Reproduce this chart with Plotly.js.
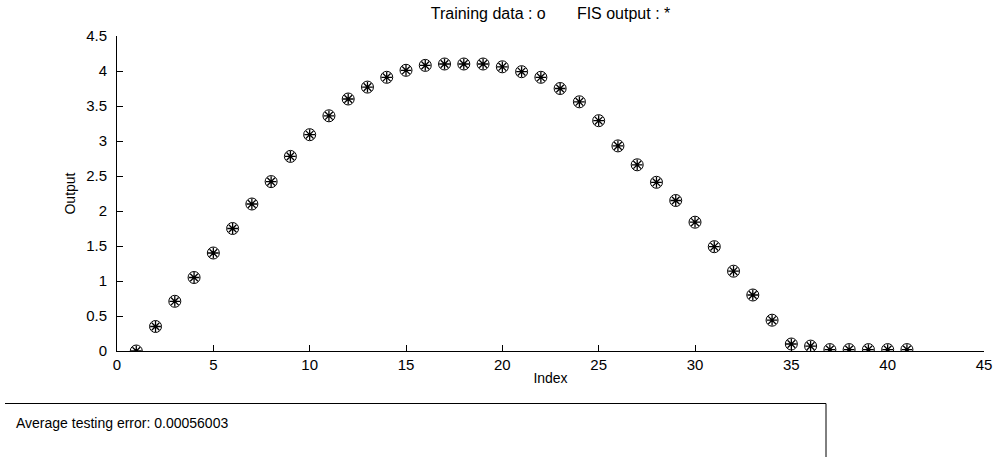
<!DOCTYPE html>
<html>
<head>
<meta charset="utf-8">
<script src="https://cdn.plot.ly/plotly-3.0.1.min.js"></script>
<style>
  html, body { margin: 0; padding: 0; background: #fff; }
  #chart { width: 993px; height: 457px; }
</style>
</head>
<body>
<div id="chart"></div>
<script>
// Sample index (1..41)
const sampleIndex = [1,2,3,4,5,6,7,8,9,10,11,12,13,14,15,16,17,18,19,20,
  21,22,23,24,25,26,27,28,29,30,31,32,33,34,35,36,37,38,39,40,41];

// Training data targets
const trainingOutput = [0.00,0.35,0.71,1.05,1.40,1.75,2.10,2.42,2.78,3.09,
  3.36,3.60,3.77,3.91,4.01,4.08,4.10,4.10,4.10,4.06,
  3.99,3.91,3.75,3.56,3.29,2.93,2.66,2.41,2.15,1.84,
  1.49,1.14,0.80,0.44,0.10,0.07,0.02,0.02,0.02,0.02,0.02];

// FIS output evaluated on the same inputs
const fisOutput = [0.00,0.35,0.71,1.05,1.40,1.75,2.10,2.42,2.78,3.09,
  3.36,3.60,3.77,3.91,4.01,4.08,4.10,4.10,4.10,4.06,
  3.99,3.91,3.75,3.56,3.29,2.93,2.66,2.41,2.15,1.84,
  1.49,1.14,0.80,0.44,0.10,0.07,0.02,0.02,0.02,0.02,0.02];

const xTicks = [0,5,10,15,20,25,30,35,40,45];
const yTicks = [0,0.5,1,1.5,2,2.5,3,3.5,4,4.5];
const yTickText = ['0','0.5','1','1.5','2','2.5','3','3.5','4','4.5'];

const titleText = 'Training data : o&nbsp;&nbsp;&nbsp;&nbsp;&nbsp;&nbsp;&nbsp;FIS output : *';
const errorText = 'Average testing error: 0.00056003';

const FONT = 'Liberation Sans, Arial, Helvetica, sans-serif';

// Panel geometry (pixels) used to place the error box in paper units
const W = 993, H = 457;
const M = { l: 117, r: 9, t: 36, b: 106 };
const pw = W - M.l - M.r, ph = H - M.t - M.b;
const px = x => (x - M.l) / pw;
const py = y => (H - M.b - y) / ph;

const traces = [
  {
    x: sampleIndex, y: trainingOutput, type: 'scatter', mode: 'markers',
    name: 'Training data',
    marker: { symbol: 'circle-open', size: 12, color: '#000', line: { width: 1, color: '#000' } },
    hoverinfo: 'x+y'
  },
  {
    x: sampleIndex, y: fisOutput, type: 'scatter', mode: 'markers',
    name: 'FIS output',
    marker: { symbol: 'asterisk-open', size: 9, color: '#000', line: { width: 1.3, color: '#000' } },
    hoverinfo: 'x+y'
  }
];

const layout = {
  width: W, height: H,
  margin: M,
  paper_bgcolor: '#fff', plot_bgcolor: '#fff',
  showlegend: false,
  font: { family: FONT, size: 14, color: '#000' },
  title: {
    text: titleText,
    font: { family: FONT, size: 16, color: '#000' },
    xref: 'paper', x: 0.5, xanchor: 'center',
    yref: 'container', y: 1 - 13 / H, yanchor: 'middle'
  },
  xaxis: {
    range: [0, 45], tickvals: xTicks, ticktext: xTicks.map(String),
    ticks: 'inside', ticklen: 6, tickwidth: 1, tickcolor: '#000',
    showline: true, linecolor: '#000', linewidth: 1, mirror: false,
    showgrid: false, zeroline: false,
    tickfont: { family: FONT, size: 15, color: '#000' },
    title: { text: 'Index', font: { family: FONT, size: 14, color: '#000' }, standoff: 1 }
  },
  yaxis: {
    range: [0, 4.5], tickvals: yTicks, ticktext: yTickText,
    ticks: 'inside', ticklen: 6, tickwidth: 1, tickcolor: '#000',
    showline: true, linecolor: '#000', linewidth: 1, mirror: false,
    showgrid: false, zeroline: false, ticklabelstandoff: 6,
    tickfont: { family: FONT, size: 15, color: '#000' },
    title: { text: 'Output', font: { family: FONT, size: 14, color: '#000' }, standoff: 7 }
  },
  shapes: [
    { type: 'line', xref: 'paper', yref: 'paper',
      x0: px(5), x1: px(826), y0: py(403.5), y1: py(403.5),
      line: { color: '#000', width: 1 } },
    { type: 'line', xref: 'paper', yref: 'paper',
      x0: px(826), x1: px(826), y0: py(403.5), y1: py(470),
      line: { color: '#000', width: 1 } }
  ],
  annotations: [
    { text: errorText, xref: 'paper', yref: 'paper',
      x: px(14), y: py(423), xanchor: 'left', yanchor: 'middle',
      showarrow: false, font: { family: FONT, size: 14, color: '#000' } }
  ]
};

Plotly.newPlot('chart', traces, layout, { displayModeBar: false, staticPlot: true });
</script>
</body>
</html>
